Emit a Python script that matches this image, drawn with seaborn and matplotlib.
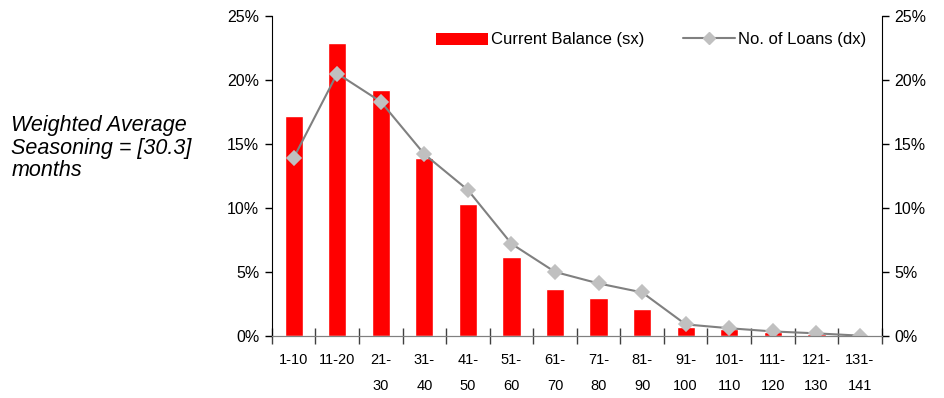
import matplotlib
matplotlib.use("Agg")
import matplotlib.pyplot as plt
import seaborn as sns
import pandas as pd
from matplotlib.ticker import PercentFormatter
from matplotlib.patches import Patch
from matplotlib.lines import Line2D

# Dati
categorie = ["1-10", "11-20", "21-30", "31-40", "41-50", "51-60", "61-70",
             "71-80", "81-90", "91-100", "101-110", "111-120", "121-130", "131-141"]
etichette = ["1-10", "11-20", "21-\n30", "31-\n40", "41-\n50", "51-\n60", "61-\n70",
             "71-\n80", "81-\n90", "91-\n100", "101-\n110", "111-\n120", "121-\n130", "131-\n141"]
saldo = [17.2, 22.9, 19.2, 13.9, 10.3, 6.2, 3.7, 3.0, 2.1, 0.7, 0.55, 0.3, 0.15, 0.05]
prestiti = [13.9, 20.5, 18.3, 14.2, 11.4, 7.2, 5.0, 4.1, 3.4, 0.9, 0.6, 0.35, 0.2, 0.02]

df = pd.DataFrame({"cat": categorie, "saldo": saldo, "prestiti": prestiti})

sns.set_style("white", {"xtick.bottom": True, "ytick.left": True, "ytick.right": True,
                        "text.color": "black", "xtick.color": "black", "ytick.color": "black"})
plt.rcParams["font.family"] = ["Liberation Sans", "DejaVu Sans"]

fig = plt.figure(figsize=(9.44, 3.98), dpi=100)
ax = fig.add_axes([0.288, 0.156, 0.646, 0.804])

sns.barplot(data=df, x="cat", y="saldo", color="#ff0000", saturation=1,
            width=0.42, ax=ax)
ax2 = ax.twinx()
sns.pointplot(data=df, x="cat", y="prestiti", color="#808080", markers="D",
              linewidth=1.5, markersize=7.5, ax=ax2)
for l in ax2.lines:
    l.set_markerfacecolor("#c0c0c0")
    l.set_markeredgecolor("#c0c0c0")

for a in (ax, ax2):
    a.set_ylim(0, 25)
    a.set_yticks([0, 5, 10, 15, 20, 25])
    a.yaxis.set_major_formatter(PercentFormatter(decimals=0))
    a.set_xlim(-0.5, 13.5)
    a.set_xlabel("")
    a.set_ylabel("")
    a.spines["top"].set_visible(False)
    a.spines["bottom"].set_color("#808080")
    a.spines["left"].set_color("black")
    a.spines["right"].set_color("black")
    a.tick_params(axis="y", direction="out", length=5, width=1, color="black",
                  labelsize=11.5, pad=4, labelcolor="black")

ax2.spines["left"].set_visible(False)
ax.spines["right"].set_visible(False)

ax.set_xticks(range(14))
ax.set_xticklabels(etichette, fontsize=10.5, linespacing=2.1, color="black")
ax.set_xticks([i - 0.5 for i in range(15)], minor=True)
ax.tick_params(axis="x", which="major", length=0, pad=12, bottom=True)
ax.tick_params(axis="x", which="minor", direction="inout", length=12, color="#404040",
               width=1, bottom=True)
ax.tick_params(axis="y", left=True, right=False)
ax2.tick_params(axis="y", right=True, left=False)
ax2.tick_params(axis="x", bottom=False, which="both")

handles = [Patch(facecolor="#ff0000", edgecolor="none"),
           Line2D([], [], color="#808080", lw=1.5, marker="D", markersize=6,
                  markerfacecolor="#c0c0c0", markeredgecolor="#c0c0c0")]
ax2.legend(handles, ["Current Balance (sx)", "No. of Loans (dx)"], loc="center right",
           bbox_to_anchor=(0.975, 0.925), ncol=2, frameon=False, fontsize=12,
           handlelength=3.1, handleheight=0.75, handletextpad=0.2, columnspacing=2.3,
           borderaxespad=0, borderpad=0)

fig.text(0.012, 0.628, "Weighted Average\nSeasoning = [30.3]\nmonths", fontsize=15.5,
         style="italic", ha="left", va="center", linespacing=1.12, color="black")

fig.savefig("out.png", dpi=100)
